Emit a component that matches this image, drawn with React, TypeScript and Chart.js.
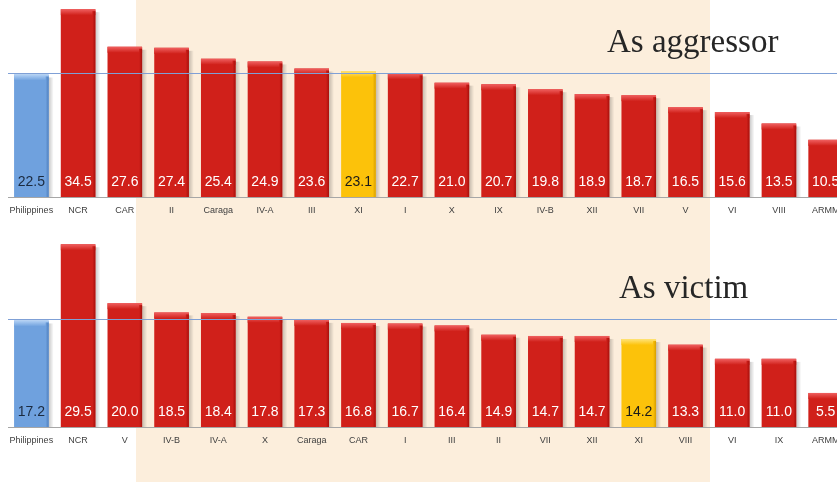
import React, { useEffect, useRef } from "react";
import { Chart, registerables } from "chart.js";

Chart.register(...registerables);

const aggCategories = ["Philippines", "NCR", "CAR", "II", "Caraga", "IV-A", "III", "XI", "I", "X", "IX", "IV-B", "XII", "VII", "V", "VI", "VIII", "ARMM"];
const aggValues = [22.5, 34.5, 27.6, 27.4, 25.4, 24.9, 23.6, 23.1, 22.7, 21.0, 20.7, 19.8, 18.9, 18.7, 16.5, 15.6, 13.5, 10.5];

const vicCategories = ["Philippines", "NCR", "V", "IV-B", "IV-A", "X", "Caraga", "CAR", "I", "III", "II", "VII", "XII", "XI", "VIII", "VI", "IX", "ARMM"];
const vicValues = [17.2, 29.5, 20.0, 18.5, 18.4, 17.8, 17.3, 16.8, 16.7, 16.4, 14.9, 14.7, 14.7, 14.2, 13.3, 11.0, 11.0, 5.5];

const aggTitle = "As aggressor";
const vicTitle = "As victim";

const BLUE = "#6FA1DE";
const RED = "#D0201A";
const YELLOW = "#FCC20A";

function barKind(cat: string, i: number) {
  if (i === 0) return "blue";
  if (cat === "XI") return "yellow";
  return "red";
}

function makeChart(
  canvas: HTMLCanvasElement,
  cats: string[],
  vals: number[],
  title: string,
  titlePos: { x: number; y: number },
  yMax: number,
  padTop: number,
  axisHeight: number
) {
  const kinds = cats.map((c, i) => barKind(c, i));
  const fill = kinds.map((k) => (k === "blue" ? BLUE : k === "yellow" ? YELLOW : RED));
  const hi = kinds.map((k) => (k === "blue" ? "#B4D2F5" : k === "yellow" ? "#FFE47A" : "#F06060"));
  const dark = kinds.map((k) => (k === "blue" ? "#4E7FBE" : k === "yellow" ? "#D79E00" : "#A8100C"));
  const txt = kinds.map((k) => (k === "blue" ? "#1B2A3F" : k === "yellow" ? "#1A1A1A" : "#FFFFFF"));

  const deco = {
    id: "deco",
    beforeDatasetsDraw(chart: any) {
      const ctx = chart.ctx;
      const meta = chart.getDatasetMeta(0);
      ctx.save();
      meta.data.forEach((el: any) => {
        const { x, y, base, width } = el.getProps(["x", "y", "base", "width"], true);
        const r = x + width / 2;
        const g = ctx.createLinearGradient(r, 0, r + 5, 0);
        g.addColorStop(0, "rgba(0,0,0,0.22)");
        g.addColorStop(1, "rgba(0,0,0,0)");
        ctx.fillStyle = g;
        ctx.fillRect(r, y + 3, 5, base - y - 3);
      });
      ctx.restore();
    },
    afterDatasetsDraw(chart: any) {
      const ctx = chart.ctx;
      const meta = chart.getDatasetMeta(0);
      const area = chart.chartArea;
      ctx.save();
      meta.data.forEach((el: any, i: number) => {
        const { x, y, base, width } = el.getProps(["x", "y", "base", "width"], true);
        const l = x - width / 2;
        const g = ctx.createLinearGradient(0, y, 0, y + 6);
        g.addColorStop(0, hi[i]);
        g.addColorStop(1, fill[i]);
        ctx.fillStyle = g;
        ctx.fillRect(l, y, width, 6);
        const g2 = ctx.createLinearGradient(l + width - 3, 0, l + width, 0);
        g2.addColorStop(0, fill[i]);
        g2.addColorStop(1, dark[i]);
        ctx.fillStyle = g2;
        ctx.fillRect(l + width - 3, y + 2, 3, base - y - 2);
      });
      // reference line at national value
      const yRef = chart.scales.y.getPixelForValue(vals[0]) - 1.5;
      ctx.strokeStyle = "#7FA0D6";
      ctx.lineWidth = 1;
      ctx.beginPath();
      ctx.moveTo(area.left, Math.round(yRef) + 0.5);
      ctx.lineTo(chart.width, Math.round(yRef) + 0.5);
      ctx.stroke();
      // value labels
      ctx.font = "14px 'Liberation Sans', Arial, sans-serif";
      ctx.textAlign = "center";
      ctx.textBaseline = "middle";
      meta.data.forEach((el: any, i: number) => {
        const { x, base } = el.getProps(["x", "base"], true);
        ctx.fillStyle = txt[i];
        ctx.fillText(vals[i].toFixed(1), x, base - 14.5);
      });
      // title
      ctx.font = "33px 'Liberation Serif', 'Times New Roman', serif";
      ctx.textAlign = "left";
      ctx.textBaseline = "alphabetic";
      ctx.fillStyle = "#262626";
      ctx.fillText(title, titlePos.x, titlePos.y);
      ctx.restore();
    },
  };

  return new Chart(canvas, {
    type: "bar",
    data: {
      labels: cats,
      datasets: [
        {
          data: vals,
          backgroundColor: fill,
          borderWidth: 0,
          barPercentage: 0.74,
          categoryPercentage: 1,
        },
      ],
    },
    options: {
      responsive: false,
      animation: false,
      events: [],
      layout: { padding: { left: 8, right: 1, top: padTop, bottom: 0 } },
      plugins: { legend: { display: false }, tooltip: { enabled: false }, title: { display: false } },
      scales: {
        x: {
          grid: { display: false },
          border: { display: true, color: "#A6A6A6", width: 1 },
          ticks: {
            color: "#404040",
            font: { family: "'Liberation Sans', Arial, sans-serif", size: 9 },
            padding: 0,
            maxRotation: 0,
            autoSkip: false,
          },
          afterFit: (axis: any) => {
            axis.height = axisHeight;
          },
        },
        y: { display: false, min: 0, max: yMax },
      },
    },
    plugins: [deco],
  });
}

export default function App() {
  const topRef = useRef<HTMLCanvasElement>(null);
  const botRef = useRef<HTMLCanvasElement>(null);

  useEffect(() => {
    const c1 = makeChart(topRef.current!, aggCategories, aggValues, aggTitle, { x: 607, y: 52 }, 36, 1, 33);
    const c2 = makeChart(botRef.current!, vicCategories, vicValues, vicTitle, { x: 619, y: 68 }, 31, 5, 55);
    return () => {
      c1.destroy();
      c2.destroy();
    };
  }, []);

  return (
    <div
      style={{
        position: "fixed",
        left: 0,
        top: 0,
        width: 837,
        height: 482,
        overflow: "hidden",
        background: "#FFFFFF",
      }}
    >
      <div style={{ position: "absolute", left: 136, top: 0, width: 574, height: 482, background: "#FCEEDC" }} />
      <canvas ref={topRef} width={850} height={230} style={{ position: "absolute", left: 0, top: 0, width: 850, height: 230 }} />
      <canvas ref={botRef} width={850} height={252} style={{ position: "absolute", left: 0, top: 230, width: 850, height: 252 }} />
    </div>
  );
}
